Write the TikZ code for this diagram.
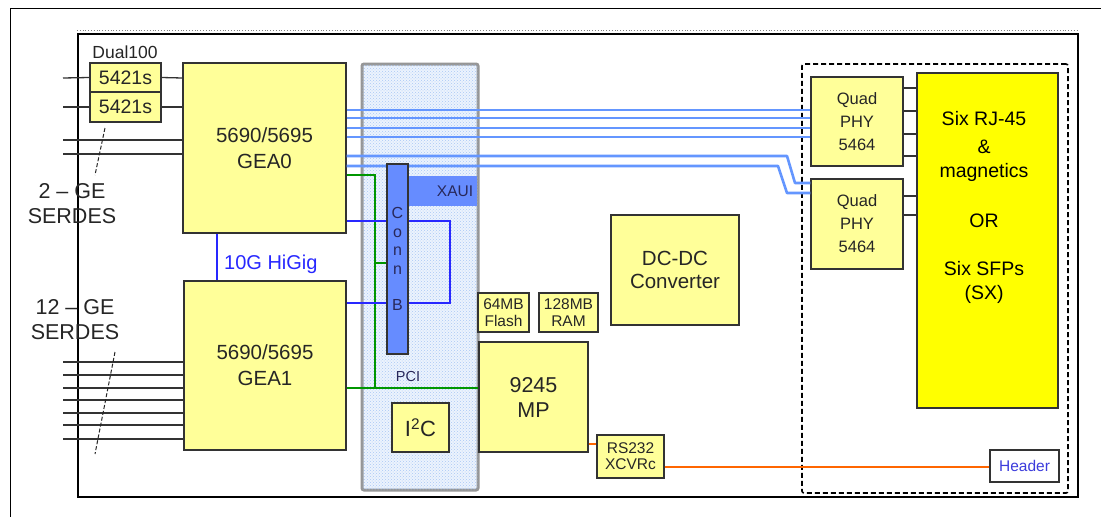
\documentclass[tikz,border=0pt]{standalone}
\usepackage{fontspec}
\setmainfont{Liberation Sans}
\usetikzlibrary{patterns}
\definecolor{paleyel}{RGB}{255,255,153}
\definecolor{brightyel}{RGB}{255,255,0}
\definecolor{edge}{RGB}{51,51,51}
\definecolor{ltblue}{RGB}{100,150,255}
\definecolor{hiblue}{RGB}{40,40,255}
\definecolor{pgreen}{RGB}{0,150,0}
\definecolor{orng}{RGB}{255,102,0}
\definecolor{connblue}{RGB}{102,140,255}
\definecolor{navy}{RGB}{40,40,90}
\definecolor{panelfill}{RGB}{236,243,253}
\definecolor{paneldot}{RGB}{170,200,245}
\definecolor{paneledge}{RGB}{150,150,150}
\definecolor{hdrtext}{RGB}{60,60,220}
\newcommand\fsz[2]{\fontsize{#1}{#2}\selectfont}
\begin{document}
\begin{tikzpicture}[x=1pt,y=-1pt,
  blk/.style={draw=edge, line width=1.3pt, fill=paleyel, inner sep=0pt, align=center, text=black!85},
  wire/.style={draw=edge, line width=1.3pt},
  lblue/.style={draw=ltblue, line width=2.6pt, line join=round},
  hblue/.style={draw=hiblue, line width=2.4pt, line join=miter},
  pgr/.style={draw=pgreen, line width=2.4pt, line join=miter},
  orl/.style={draw=orng, line width=2.4pt},
  slash/.style={draw=black!85, line width=1pt, dash pattern=on 4pt off 2pt},
  lbl/.style={inner sep=0pt, align=center, text=black!85}
]
\useasboundingbox (0,0) rectangle (1101,517);
\fill[white] (0,0) rectangle (1101,517);

% outer frame (top and left visible)
\coordinate (o1) at (10,517);
\coordinate (o2) at (10,8);
\coordinate (o3) at (1101,8);
\draw[line width=1pt] (o1) -- (o2) -- (o3);

% inner frame
\node[draw=black, line width=2.2pt, minimum width=1000pt, minimum height=463pt, inner sep=0pt] (frame) at (578,265.5) {};
\draw[gray, dotted, line width=0.8pt] ([yshift=3pt]frame.north west) -- ([yshift=3pt]frame.north east);

% dashed PHY area
\node[draw=black, line width=1.6pt, dash pattern=on 5pt off 3pt, rounded corners=2pt, minimum width=266pt, minimum height=429pt, inner sep=0pt] (phyarea) at (935,278.5) {};

% central panel
\node[draw=paneledge, line width=3pt, fill=panelfill, rounded corners=2pt, minimum width=116pt, minimum height=426pt, inner sep=0pt,
  postaction={pattern=crosshatch dots, pattern color=paneldot}] (panel) at (420,277) {};
\node[fill=connblue, minimum width=69pt, minimum height=30pt, inner sep=0pt] (xaui) at (442.5,191) {};
\node[inner sep=0pt, text=navy, font=\fsz{15.5}{17}] (xauit) at (455,191.5) {XAUI};

% boxes
\node[blk, minimum width=71pt, minimum height=29pt, font=\fsz{19.5}{22}] (s1) at (125.5,77.5) {5421s};
\node[blk, minimum width=71pt, minimum height=30pt, font=\fsz{19.5}{22}] (s2) at (125.5,107) {5421s};
\node[lbl, font=\fsz{17.5}{19}] (dual) at (125,52) {Dual100};

\node[blk, minimum width=163pt, minimum height=170pt, font=\fsz{20.5}{26}] (gea0) at (264.5,148) {5690/5695\\GEA0};
\node[blk, minimum width=162pt, minimum height=169pt, font=\fsz{20.5}{26}] (gea1) at (265,365.5) {5690/5695\\GEA1};

\node[blk, minimum width=57pt, minimum height=49pt, font=\fsz{22}{24}] (i2c) at (420.5,427.5) {I\textsuperscript{2}C};
\node[blk, minimum width=51pt, minimum height=39pt, font=\fsz{15.5}{16.5}] (flash) at (503.5,312.5) {64MB\\Flash};
\node[blk, minimum width=59pt, minimum height=39pt, font=\fsz{15.5}{16.5}] (ram) at (568.5,312.5) {128MB\\RAM};
\node[blk, minimum width=109pt, minimum height=110pt, font=\fsz{21.5}{25}] (mp) at (533.5,397) {9245\\MP};
\node[blk, minimum width=67pt, minimum height=43pt, font=\fsz{15.5}{16}] (rs) at (630.5,456.5) {RS232\\XCVRc};
\node[blk, minimum width=128pt, minimum height=110pt, font=\fsz{20.5}{22.5}] (dcdc) at (675,270) {DC-DC\\Converter};

\node[blk, minimum width=92pt, minimum height=89pt, font=\fsz{16.5}{23}] (phy1) at (857,121.5) {Quad\\PHY\\5464};
\node[blk, minimum width=92pt, minimum height=90pt, font=\fsz{16.5}{23}] (phy2) at (857,224) {Quad\\PHY\\5464};
\node[blk, fill=brightyel, minimum width=141pt, minimum height=335pt] (rj) at (987.5,240.5) {};
\node[lbl, text=black, font=\fsz{19.5}{24}] (rjt) at (984,207) {Six RJ-45\\[4pt]\&\\magnetics\\[26pt]OR\\[24pt]Six SFPs\\(SX)};
\node[draw=edge, line width=1.3pt, fill=white, minimum width=69pt, minimum height=32pt, inner sep=0pt, text=hdrtext, font=\fsz{15.5}{16}] (hdr) at (1024.5,466) {Header};

% helper y-levels
\foreach \y in {78,107,140,154,362,375,388,400,413,425,439,110,118,128,137,156,166,183,193,88,111,134,196,215,221,303,175,263,444,467}{
  \path (0,\y) coordinate (y\y);
}
\path (217,0) coordinate (xh);

% left input lines
\coordinate (l78) at (63,78);
\coordinate (l107) at (63,107);
\draw[wire] (l78) -- (s1.west);
\draw[wire] (l107) -- (s2.west);
\draw[wire] (s1.east) -- (gea0.west |- y78);
\draw[wire] (s2.east) -- (gea0.west |- y107);
\foreach \y in {140,154}{
  \coordinate (l\y) at (63,\y);
  \draw[wire] (l\y) -- (gea0.west |- y\y);
}
\foreach \y in {362,375,388,400,413,425,439}{
  \coordinate (l\y) at (63,\y);
  \draw[wire] (l\y) -- (gea1.west |- y\y);
}
% bus slash marks
\coordinate (sa1) at (105,128); \coordinate (sa2) at (95,175);
\coordinate (sb1) at (115,352); \coordinate (sb2) at (95,454);
\draw[slash] (sa1) -- (sa2);
\draw[slash] (sb1) -- (sb2);

% SERDES labels
\node[lbl, font=\fsz{21.5}{25}] (serd0) at (72,204) {2 – GE\\SERDES};
\node[lbl, font=\fsz{21.5}{25}] (serd1) at (75,320) {12 – GE\\SERDES};

% light blue lines to PHYs
\foreach \y in {110,118,128,137}{
  \draw[lblue] (gea0.east |- y\y) -- (phy1.west |- y\y);
}
\draw[lblue] (gea0.east |- y156) -- (787,156) -- (795,183) -- (phy2.west |- y183);
\draw[lblue] (gea0.east |- y166) -- (778,166) -- (787,193) -- (phy2.west |- y193);

% PHY to RJ-45 block
\foreach \y in {88,111,134,156}{
  \draw[wire] (phy1.east |- y\y) -- (rj.west |- y\y);
}
\foreach \y in {196,215}{
  \draw[wire] (phy2.east |- y\y) -- (rj.west |- y\y);
}

% green PCI
\coordinate (gt) at (375,175);
\coordinate (gb) at (375,388);
\coordinate (gm) at (375,263);
\draw[pgr] (gea0.east |- y175) -- (gt) -- (gb);
\draw[pgr] (gea1.east |- y388) -- (mp.west |- y388);

% conn box
\node[draw=edge, line width=1.2pt, fill=connblue, minimum width=21pt, minimum height=190pt, inner sep=0pt, align=center, text=navy, font=\fsz{16}{18.5}] (conn) at (397.5,259) {C\\o\\n\\n\\[18pt]B};
\draw[pgr] (gm) -- (conn.west |- y263);
\node[inner sep=0pt, text=navy, font=\fsz{14.5}{15}] (pci) at (408,377) {PCI};

% blue HiGig
\draw[hblue] (gea0.south -| xh) -- (gea1.north -| xh);
\node[anchor=west, inner sep=0pt, text=hiblue, font=\fsz{20}{22}] (higig) at (224,264) {10G HiGig};
\coordinate (bl1) at (450,221);
\coordinate (bl2) at (450,303);
\draw[hblue] (gea0.east |- y221) -- (conn.west |- y221);
\draw[hblue] (conn.east |- y221) -- (bl1) -- (bl2) -- (conn.east |- y303);
\draw[hblue] (gea1.east |- y303) -- (conn.west |- y303);

% orange serial
\draw[orl] (mp.east |- y444) -- (rs.west |- y444);
\draw[orl] (rs.east |- y467) -- (hdr.west |- y467);
\end{tikzpicture}
\end{document}
